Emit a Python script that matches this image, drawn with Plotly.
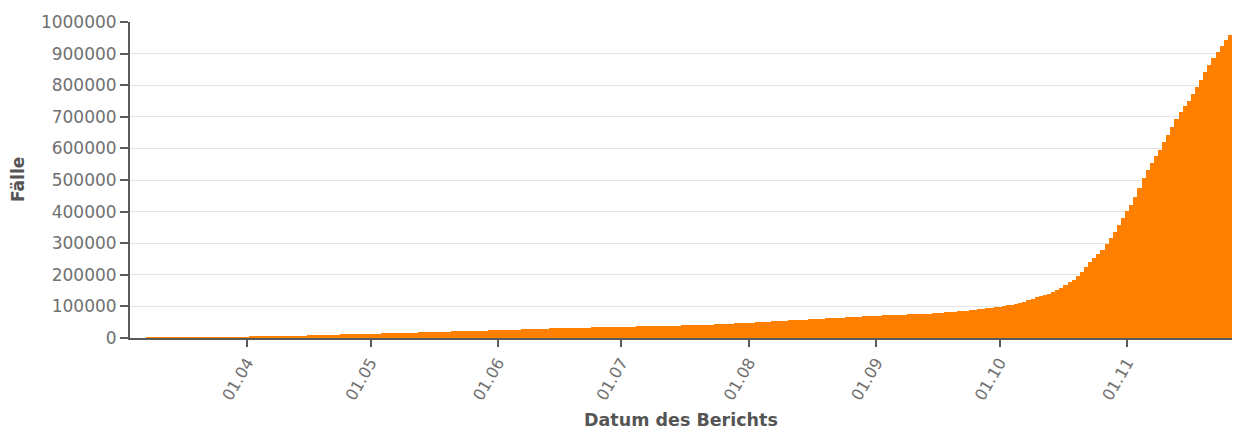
import pandas as pd
import plotly.graph_objects as go

# Cumulative cases per report day, 2020-03-04 .. 2020-11-26
mar = [1, 5, 6, 11, 17, 22, 31, 51, 68, 104, 125, 177, 238, 251, 355, 425, 536, 634,
       749, 901, 1051, 1221, 1389, 1638, 1862, 2055, 2311, 2554]
apr = [2946, 3383, 3627, 4102, 4413, 4848, 5205, 5575, 5955, 6356, 6674, 6934, 7202,
       7582, 7918, 8379, 8742, 9287, 9593, 9856, 10169, 10511, 10892, 11273, 11617,
       11902, 12218, 12640, 12877, 13105]
may = [13375, 13693, 14006, 14431, 14740, 15047, 15366, 15651, 15996, 16326, 16921,
       17204, 17615, 18016, 18257, 18529, 18746, 19268, 19739, 20143, 20619, 20931,
       21326, 21631, 22074, 22473, 22825, 23155, 23571, 23786, 24165]
jun = [24395, 24687, 25048, 25410, 25986, 26561, 27160, 27560, 28201, 28804, 29017,
       29392, 29788, 30195, 30701, 31015, 31316, 31620, 31931, 32227, 32527, 32821,
       33119, 33395, 33714, 33907, 34154, 34393, 34775, 35146]
jul = [35405, 35719, 35950, 36155, 36412, 36689, 36951, 37216, 37521, 37891, 38190,
       38457, 38721, 39054, 39407, 39746, 40104, 40383, 40782, 41162, 41580, 42038,
       42622, 43307, 43904, 44416, 44913, 45688, 46346, 46894, 47469]
aug = [48149, 48789, 49515, 50324, 51167, 51976, 52819, 53630, 54178, 54777, 55457,
       56074, 56906, 57664, 58318, 58862, 59449, 60189, 60880, 61783, 62602, 63428,
       63976, 64570, 65457, 66344, 67244, 67970, 68520, 69100, 69697]
sep = [70247, 70887, 71548, 72146, 72727, 73103, 73545, 74146, 74744, 75347, 75915,
       76446, 76858, 77359, 77959, 78933, 79935, 81522, 82872, 83874, 84618, 85593,
       86729, 88316, 89900, 91250, 92556, 93882, 95434, 97401]
oct_ = [99338, 101630, 103564, 105148, 107384, 110387, 114667, 119406, 124706, 128884,
        132657, 136000, 140500, 145000, 150500, 158000, 167000, 176000, 185000, 196000,
        210000, 224000, 239000, 253000, 266000, 280000, 298000, 316000, 337000, 359000,
        381000]
nov = [402000, 422000, 447000, 476000, 505000, 531000, 554000, 575000, 596000, 619000,
       644000, 668000, 693000, 715000, 733000, 751000, 771000, 794000, 817000, 841000,
       864000, 885000, 905000, 923000, 942000, 960000]

start_date = "2020-03-04"
end_date = "2020-11-26"
faelle = mar + apr + may + jun + jul + aug + sep + oct_ + nov
datum = pd.date_range(start_date, end_date, freq="D")
assert len(datum) == len(faelle)

tick_color = "#707070"
axis_color = "#5a5a5a"
title_color = "#555555"
font_family = "DejaVu Sans"

fig = go.Figure(
    go.Bar(
        x=datum,
        y=faelle,
        marker=dict(color="#ff8000", line=dict(width=0)),
        hovertemplate="%{x|%d.%m.%Y}: %{y}<extra></extra>",
    )
)

fig.update_layout(
    width=1233,
    height=433,
    margin=dict(l=130, r=1, t=22, b=95),
    paper_bgcolor="white",
    plot_bgcolor="white",
    bargap=0,
    showlegend=False,
    font=dict(family=font_family, size=17, color=tick_color),
    xaxis=dict(
        range=["2020-03-03 12:00", "2020-11-26 12:00"],
        tick0="2020-04-01",
        dtick="M1",
        tickformat="%d.%m",
        tickangle=-60,
        ticks="outside",
        ticklen=7,
        tickwidth=1.5,
        tickcolor=axis_color,
        showline=True,
        linecolor=axis_color,
        linewidth=2,
        showgrid=False,
        zeroline=False,
        tickfont=dict(family=font_family, size=16, color=tick_color),
    ),
    yaxis=dict(
        range=[0, 1000000],
        dtick=100000,
        tickformat="d",
        ticks="outside",
        ticklen=8,
        tickwidth=1.5,
        tickcolor=axis_color,
        showline=True,
        linecolor=axis_color,
        linewidth=2,
        showgrid=True,
        gridcolor="#e3e3e3",
        gridwidth=1,
        zeroline=False,
        tickfont=dict(family=font_family, size=17, color=tick_color),
    ),
    annotations=[
        dict(
            text="<b>Fälle</b>",
            xref="paper", yref="paper", x=0, y=0.5,
            xshift=-112, xanchor="center", yanchor="middle",
            textangle=-90, showarrow=False,
            font=dict(family=font_family, size=17, color=title_color),
        ),
        dict(
            text="<b>Datum des Berichts</b>",
            xref="paper", yref="paper", x=0.5, y=0,
            yshift=-82, xanchor="center", yanchor="middle",
            showarrow=False,
            font=dict(family=font_family, size=17.5, color=title_color),
        ),
    ],
)

fig.write_html(
    "out.html",
    config={"displayModeBar": False},
    post_script="document.body.style.margin='0';document.body.style.overflow='hidden';",
)
